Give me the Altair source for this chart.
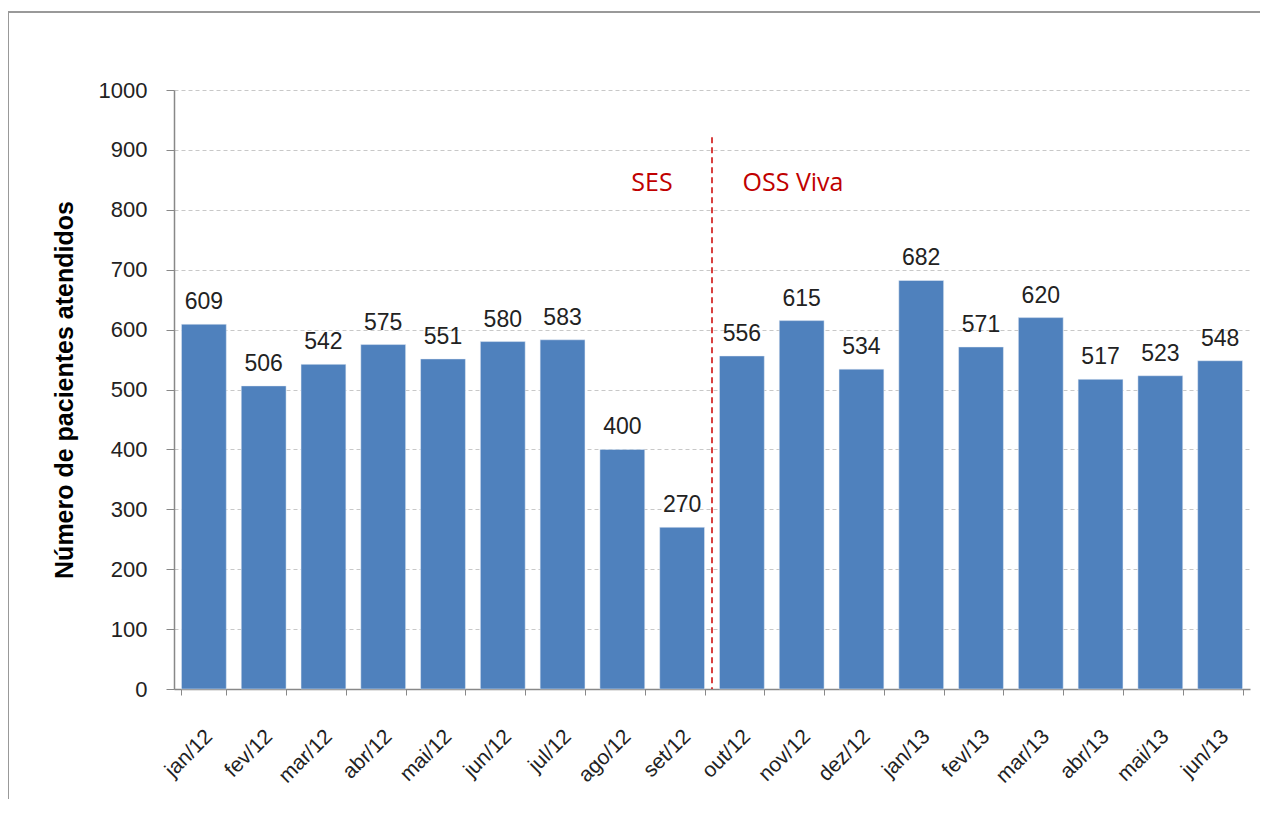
import altair as alt
import pandas as pd

months = ["jan/12", "fev/12", "mar/12", "abr/12", "mai/12", "jun/12", "jul/12", "ago/12", "set/12",
          "out/12", "nov/12", "dez/12", "jan/13", "fev/13", "mar/13", "abr/13", "mai/13", "jun/13"]
patients = [609, 506, 542, 575, 551, 580, 583, 400, 270,
            556, 615, 534, 682, 571, 620, 517, 523, 548]

divider_after = "set/12"
divider_top = 921
period_labels = ["SES", "OSS Viva"]
period_y = 844

df = pd.DataFrame({"mes": months, "pacientes": patients})

W, H = 1076, 599
FONT = "Liberation Sans"

x_enc = alt.X("mes:N", sort=months, title=None,
              scale=alt.Scale(paddingInner=0.25, paddingOuter=0.125))
y_enc = alt.Y("pacientes:Q", title="Número de pacientes  atendidos",
              scale=alt.Scale(domain=[0, 1000], nice=False),
              axis=alt.Axis(values=list(range(0, 1001, 100)), format="d"))

base = alt.Chart(df)
bars = base.mark_bar(color="#4F81BD", stroke="#e8eef7", strokeWidth=0.5).encode(x=x_enc, y=y_enc)
labels = base.mark_text(dy=-15, baseline="alphabetic", fontSize=23, color="#222", font=FONT).encode(
    x=alt.X("mes:N", sort=months), y="pacientes:Q", text="pacientes:Q")

div_df = pd.DataFrame({"mes": [divider_after], "top": [divider_top], "bottom": [0]})
divider = alt.Chart(div_df).mark_rule(color="#cc0000", strokeDash=[6, 4], strokeWidth=1.5,
                                      xOffset=W / 18 / 2).encode(
    x=alt.X("mes:N", sort=months), y="top:Q", y2="bottom:Q")

per_df = pd.DataFrame({"label": period_labels, "y": [period_y, period_y],
                       "px": [652 - 174, 793 - 174]})
periods = alt.Chart(per_df).mark_text(fontSize=25, color="#c00000", font="Open Sans").encode(
    x=alt.X("px:Q", scale=None), y="y:Q", text="label:N")

frame_df = pd.DataFrame({"a": [0]})
frame_left = alt.Chart(frame_df).mark_rule(color="#999", strokeWidth=2).encode(
    x=alt.value(-166), y=alt.value(-78), y2=alt.value(720))
frame_top = alt.Chart(frame_df).mark_rule(color="#999", strokeWidth=2).encode(
    x=alt.value(-166), x2=alt.value(1102), y=alt.value(-78))

chart = alt.layer(frame_left, frame_top, bars, labels, divider, periods).properties(
    width=W, height=H,
    autosize=alt.AutoSizeParams(type="none"),
    padding={"left": 166, "top": 82, "right": 10, "bottom": 110},
).configure_view(stroke=None).configure_axis(
    domainWidth=1.5, domainColor="#888", tickColor="#888", labelColor="#222", labelFont=FONT,
    titleFont=FONT, titleColor="#000",
).configure_axisX(
    labelAngle=-45, labelFontSize=21, labelPadding=38, labelOffset=5, tickBand="extent", tickSize=6,
    labelAlign="right", labelBaseline="middle", grid=False,
).configure_axisY(
    labelFontSize=22, labelPadding=19, tickSize=8, grid=True, gridColor="#c8c8c8",
    gridDash=[4, 3], titleFontSize=25, titleFontWeight="bold", titlePadding=21,
)

chart.save("out.html", embed_options={"renderer": "svg", "actions": False})
